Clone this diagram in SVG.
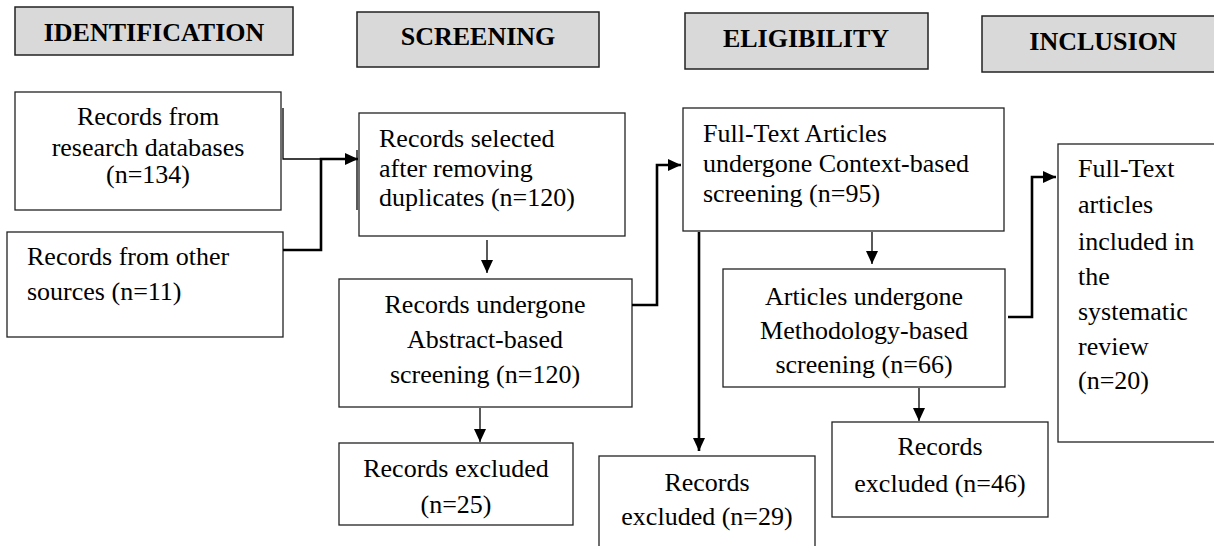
<svg xmlns="http://www.w3.org/2000/svg" width="1214" height="546" viewBox="0 0 1214 546">
<style>
.hdr rect{fill:#d9d9d9;stroke:#222;stroke-width:1.5}
.nd rect{fill:#fff;stroke:#222;stroke-width:1.3}
.thin{fill:none;stroke:#000;stroke-width:1.3}
.thick{fill:none;stroke:#000;stroke-width:2.6}
</style>
<defs>
<marker id="ah" markerUnits="userSpaceOnUse" markerWidth="14" markerHeight="12" refX="13" refY="6" orient="auto">
<path d="M0,0 L13,6 L0,12 Z" fill="#000"/>
</marker>
</defs>
<rect width="1214" height="546" fill="#fff"/>

<g id="h-identification" class="hdr"><rect x="15" y="7" width="278" height="48"/><text x="154" y="41" font-family="Liberation Serif" font-size="26" font-weight="bold" text-anchor="middle">IDENTIFICATION</text></g>
<g id="h-screening" class="hdr"><rect x="357" y="12" width="242" height="55"/><text x="478" y="45" font-family="Liberation Serif" font-size="26" font-weight="bold" text-anchor="middle">SCREENING</text></g>
<g id="h-eligibility" class="hdr"><rect x="685" y="13" width="243" height="56"/><text x="806" y="47" font-family="Liberation Serif" font-size="26" font-weight="bold" text-anchor="middle">ELIGIBILITY</text></g>
<g id="h-inclusion" class="hdr"><rect x="982" y="16" width="240" height="56"/><text x="1103" y="50" font-family="Liberation Serif" font-size="26" font-weight="bold" text-anchor="middle">INCLUSION</text></g>

<g id="n-databases" class="nd"><rect x="15" y="92" width="266" height="118"/>
<text x="148" y="125" font-family="Liberation Serif" font-size="26" text-anchor="middle">Records from</text>
<text x="148" y="156" font-family="Liberation Serif" font-size="26" text-anchor="middle">research databases</text>
<text x="148" y="183" font-family="Liberation Serif" font-size="26" text-anchor="middle">(n=134)</text></g>

<g id="n-other" class="nd"><rect x="7" y="232" width="276" height="105"/>
<text x="27" y="265" font-family="Liberation Serif" font-size="26">Records from other</text>
<text x="27" y="300" font-family="Liberation Serif" font-size="26">sources (n=11)</text></g>

<g id="n-selected" class="nd"><rect x="359" y="113" width="266" height="123"/>
<text x="379" y="147" font-family="Liberation Serif" font-size="26">Records selected</text>
<text x="379" y="177" font-family="Liberation Serif" font-size="26">after removing</text>
<text x="379" y="206" font-family="Liberation Serif" font-size="26">duplicates (n=120)</text></g>

<g id="n-abstract" class="nd"><rect x="339" y="279" width="293" height="128"/>
<text x="485" y="313" font-family="Liberation Serif" font-size="26" text-anchor="middle">Records undergone</text>
<text x="485" y="348" font-family="Liberation Serif" font-size="26" text-anchor="middle">Abstract-based</text>
<text x="485" y="383" font-family="Liberation Serif" font-size="26" text-anchor="middle">screening (n=120)</text></g>

<g id="n-excl25" class="nd"><rect x="339" y="443" width="234" height="82"/>
<text x="456" y="477" font-family="Liberation Serif" font-size="26" text-anchor="middle">Records excluded</text>
<text x="456" y="513" font-family="Liberation Serif" font-size="26" text-anchor="middle">(n=25)</text></g>

<g id="n-context" class="nd"><rect x="683" y="108" width="321" height="123"/>
<text x="703" y="142" font-family="Liberation Serif" font-size="26">Full-Text Articles</text>
<text x="703" y="172" font-family="Liberation Serif" font-size="26">undergone Context-based</text>
<text x="703" y="202" font-family="Liberation Serif" font-size="26">screening (n=95)</text></g>

<g id="n-method" class="nd"><rect x="723" y="269" width="282" height="118"/>
<text x="864" y="305" font-family="Liberation Serif" font-size="26" text-anchor="middle">Articles undergone</text>
<text x="864" y="339" font-family="Liberation Serif" font-size="26" text-anchor="middle">Methodology-based</text>
<text x="864" y="373" font-family="Liberation Serif" font-size="26" text-anchor="middle">screening (n=66)</text></g>

<g id="n-excl29" class="nd"><rect x="599" y="456" width="216" height="100"/>
<text x="707" y="491" font-family="Liberation Serif" font-size="26" text-anchor="middle">Records</text>
<text x="707" y="525" font-family="Liberation Serif" font-size="26" text-anchor="middle">excluded (n=29)</text></g>

<g id="n-excl46" class="nd"><rect x="832" y="422" width="216" height="95"/>
<text x="940" y="455" font-family="Liberation Serif" font-size="26" text-anchor="middle">Records</text>
<text x="940" y="492" font-family="Liberation Serif" font-size="26" text-anchor="middle">excluded (n=46)</text></g>

<g id="n-included" class="nd"><rect x="1058" y="144" width="166" height="298"/>
<text x="1078" y="177" font-family="Liberation Serif" font-size="26">Full-Text</text>
<text x="1078" y="213" font-family="Liberation Serif" font-size="26">articles</text>
<text x="1078" y="250" font-family="Liberation Serif" font-size="26">included in</text>
<text x="1078" y="285" font-family="Liberation Serif" font-size="26">the</text>
<text x="1078" y="320" font-family="Liberation Serif" font-size="26">systematic</text>
<text x="1078" y="355" font-family="Liberation Serif" font-size="26">review</text>
<text x="1078" y="389" font-family="Liberation Serif" font-size="26">(n=20)</text></g>

<g id="connectors">
<path class="thin" d="M283,108 V159 H322"/>
<path class="thin" d="M357,150 V210"/>
<path class="thick" d="M283,250 H321 V159 H358" marker-end="url(#ah)"/>
<path class="thin" d="M487,240 V273" stroke-width="2" marker-end="url(#ah)"/>
<path class="thin" d="M480,408 V442" stroke-width="2" marker-end="url(#ah)"/>
<path class="thick" d="M632,305 H657 V165 H681" marker-end="url(#ah)"/>
<path class="thin" d="M872,232 V264" stroke-width="2" marker-end="url(#ah)"/>
<path class="thick" d="M699,232 V451" marker-end="url(#ah)"/>
<path class="thin" d="M919,388 V421" stroke-width="2.4" marker-end="url(#ah)"/>
<path class="thick" d="M1008,317 H1032 V177 H1056" marker-end="url(#ah)"/>
</g>
</svg>
